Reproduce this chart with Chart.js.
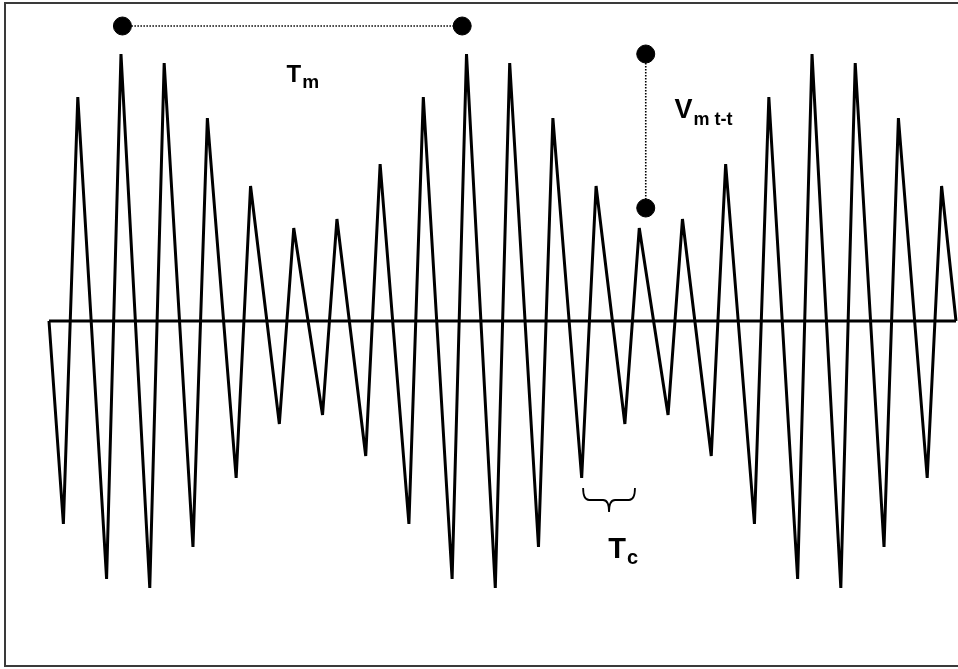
<!DOCTYPE html>
<html>
<head>
<meta charset="utf-8">
<script src="https://cdn.jsdelivr.net/npm/chart.js@4/dist/chart.umd.min.js"></script>
<style>
  html, body { margin: 0; padding: 0; background: #fff; }
  canvas { display: block; }
</style>
</head>
<body>
<canvas id="waveChart" width="958" height="669"></canvas>
<script>
// Waveform (time in arbitrary units, amplitude in arbitrary units)
var startPoint = { t: 0, v: 0 };
var endPoint = { t: 63, v: 0 };

var troughTimes = [1, 4, 7, 10, 13, 16, 19, 22, 25, 28, 31, 34, 37, 40, 43, 46, 49, 52, 55, 58, 61];
var troughValues = [-2.03, -2.58, -2.67, -2.26, -1.57, -1.03, -0.94, -1.35, -2.03, -2.58, -2.67, -2.26, -1.57, -1.03, -0.94, -1.35, -2.03, -2.58, -2.67, -2.26, -1.57];

var peakTimes = [2, 5, 8, 11, 14, 17, 20, 23, 26, 29, 32, 35, 38, 41, 44, 47, 50, 53, 56, 59, 62];
var peakValues = [2.24, 2.67, 2.58, 2.03, 1.35, 0.93, 1.02, 1.57, 2.24, 2.67, 2.58, 2.03, 1.35, 0.93, 1.02, 1.57, 2.24, 2.67, 2.58, 2.03, 1.35];

// Annotation markers
var tmTimes = [5.1, 28.7];
var tmLevel = 2.95;
var vmTime = 41.45;
var vmLevels = [2.67, 1.13];
var tcSpan = [37.1, 40.7];
var tcLevel = -1.67;

// Build the waveform point list: start, then trough/peak pairs, then end
var wave = [{ x: startPoint.t, y: startPoint.v }];
for (var i = 0; i < troughTimes.length; i++) {
  wave.push({ x: troughTimes[i], y: troughValues[i] });
  wave.push({ x: peakTimes[i], y: peakValues[i] });
}
wave.push({ x: endPoint.t, y: endPoint.v });

var baseline = [{ x: startPoint.t, y: 0 }, { x: endPoint.t, y: 0 }];

var FONT = '"Liberation Sans", Arial, Helvetica, sans-serif';

// Text with a subscript, e.g. T with m below
function drawSub(ctx, x, y, main, sub, mainSize, subSize, dy) {
  ctx.font = 'bold ' + mainSize + 'px ' + FONT;
  ctx.fillText(main, x, y);
  var w = ctx.measureText(main).width;
  ctx.font = 'bold ' + subSize + 'px ' + FONT;
  ctx.fillText(sub, x + w + 1, y + dy);
}

var decorPlugin = {
  id: 'decor',
  afterDatasetsDraw: function (chart) {
    var ctx = chart.ctx;
    var xs = chart.scales.x, ys = chart.scales.y;
    ctx.save();
    ctx.fillStyle = '#000';
    ctx.textBaseline = 'alphabetic';
    ctx.textAlign = 'left';

    // T_m label under the horizontal marker
    drawSub(ctx, xs.getPixelForValue(16.5), ys.getPixelForValue(2.39), 'T', 'm', 24, 19, 6);
    // V_m t-t label beside the vertical marker
    drawSub(ctx, xs.getPixelForValue(43.45), ys.getPixelForValue(2.03), 'V', 'm t-t', 27, 18, 7);
    // T_c label under the brace
    drawSub(ctx, xs.getPixelForValue(38.85), ys.getPixelForValue(-2.37), 'T', 'c', 29, 20, 6);

    // Brace spanning one cycle
    var x0 = xs.getPixelForValue(tcSpan[0]);
    var x1 = xs.getPixelForValue(tcSpan[1]);
    var xc = (x0 + x1) / 2;
    var yTop = ys.getPixelForValue(tcLevel);
    var yMid = yTop + 12;
    var yTip = yTop + 24;
    var r = 6;
    ctx.strokeStyle = '#000';
    ctx.lineWidth = 1.8;
    ctx.beginPath();
    ctx.moveTo(x0, yTop);
    ctx.quadraticCurveTo(x0, yMid, x0 + r, yMid);
    ctx.lineTo(xc - r, yMid);
    ctx.quadraticCurveTo(xc, yMid, xc, yTip);
    ctx.moveTo(x1, yTop);
    ctx.quadraticCurveTo(x1, yMid, x1 - r, yMid);
    ctx.lineTo(xc + r, yMid);
    ctx.quadraticCurveTo(xc, yMid, xc, yTip);
    ctx.stroke();

    // Outer frame
    ctx.strokeStyle = '#3a3a3a';
    ctx.lineWidth = 2;
    ctx.strokeRect(5, 3, 970, 663);
    ctx.restore();
  }
};

var ctx = document.getElementById('waveChart');
var waveChart = new Chart(ctx, {
  type: 'scatter',
  data: {
    datasets: [
      {
        data: baseline,
        showLine: true,
        borderColor: '#000',
        borderWidth: 3,
        pointRadius: 0,
        clip: false
      },
      {
        data: wave,
        showLine: true,
        borderColor: '#000',
        borderWidth: 3,
        borderJoinStyle: 'bevel',
        tension: 0,
        pointRadius: 0,
        clip: false
      },
      {
        data: tmTimes.map(function (t) { return { x: t, y: tmLevel }; }),
        showLine: true,
        borderColor: '#000',
        borderWidth: 1.6,
        borderDash: [1.5, 1.5],
        pointRadius: 9,
        pointBorderWidth: 1,
        pointBackgroundColor: '#000',
        pointBorderColor: '#000',
        clip: false
      },
      {
        data: vmLevels.map(function (v) { return { x: vmTime, y: v }; }),
        showLine: true,
        borderColor: '#000',
        borderWidth: 1.6,
        borderDash: [1.5, 1.5],
        pointRadius: 9,
        pointBorderWidth: 1,
        pointBackgroundColor: '#000',
        pointBorderColor: '#000',
        clip: false
      }
    ]
  },
  options: {
    responsive: false,
    devicePixelRatio: 1,
    animation: false,
    layout: { autoPadding: false, padding: { left: 49, right: 2, top: 21, bottom: 48 } },
    scales: {
      x: { type: 'linear', min: 0, max: 63, display: false },
      y: { type: 'linear', min: -3, max: 3, display: false }
    },
    plugins: {
      legend: { display: false },
      tooltip: { enabled: false }
    },
    events: []
  },
  plugins: [decorPlugin]
});
</script>
</body>
</html>
